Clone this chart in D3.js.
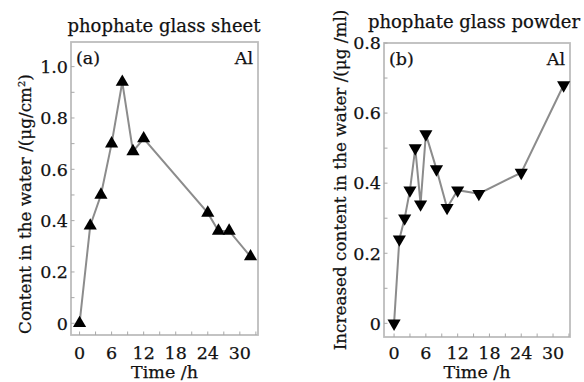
<!DOCTYPE html>
<html>
<head>
<meta charset="utf-8">
<script src="https://cdn.jsdelivr.net/npm/d3@7"></script>
<style>
  body { margin: 0; background: #fff; }
  svg { display: block; }
  text { font-family: "DejaVu Serif", serif; fill: #111; stroke: #111; stroke-width: 0.25; }
</style>
</head>
<body>
<svg id="chart" width="584" height="382"></svg>
<script>
// panel (a): phosphate glass sheet
const timesA = [0, 2, 4, 6, 8, 10, 12, 24, 26, 28, 32];
const contentA = [0, 0.38, 0.50, 0.70, 0.94, 0.67, 0.72, 0.43, 0.36, 0.36, 0.26];
// panel (b): phosphate glass powder
const timesB = [0, 1, 2, 3, 4, 5, 6, 8, 10, 12, 16, 24, 32];
const contentB = [0, 0.24, 0.30, 0.38, 0.50, 0.34, 0.54, 0.44, 0.33, 0.38, 0.37, 0.43, 0.68];

const xTicks = [0, 6, 12, 18, 24, 30];
const xMinor = [3, 9, 15, 21, 27, 33];
const yTicksA = [0, 0.2, 0.4, 0.6, 0.8, 1.0];
const yMinorA = [0.1, 0.3, 0.5, 0.7, 0.9];
const yTicksB = [0, 0.2, 0.4, 0.6, 0.8];
const yMinorB = [0.1, 0.3, 0.5, 0.7];

const svg = d3.select("#chart");
const fmt = d => (d === 0 ? "0" : d3.format(".1f")(d));

function drawPanel(p) {
  const x = d3.scaleLinear().domain(p.xDomain).range([p.left, p.right]);
  const y = d3.scaleLinear().domain(p.yDomain).range([p.bottom, p.top]);
  const g = svg.append("g");

  // frame
  g.append("rect")
    .attr("x", p.left).attr("y", p.top)
    .attr("width", p.right - p.left).attr("height", p.bottom - p.top)
    .attr("fill", "none").attr("stroke", "#bdbdbd").attr("stroke-width", 1.8);

  // ticks (pointing inward)
  const tickStroke = "#a8a8a8";
  g.selectAll(".xt").data(xTicks.concat(xMinor)).enter().append("line")
    .attr("x1", d => x(d)).attr("x2", d => x(d))
    .attr("y1", p.bottom).attr("y2", p.bottom - 3.5)
    .attr("stroke", tickStroke).attr("stroke-width", 1);
  g.selectAll(".yt").data(p.yTicks.concat(p.yMinor)).enter().append("line")
    .attr("x1", p.left).attr("x2", p.left + 3.5)
    .attr("y1", d => y(d)).attr("y2", d => y(d))
    .attr("stroke", tickStroke).attr("stroke-width", 1);

  // tick labels
  g.selectAll(".xl").data(xTicks).enter().append("text")
    .attr("x", d => x(d)).attr("y", 359)
    .attr("text-anchor", "middle").attr("font-size", 17.5)
    .text(d => d);
  g.selectAll(".yl").data(p.yTicks).enter().append("text")
    .attr("x", p.left - 3).attr("y", d => y(d))
    .attr("dy", "0.36em")
    .attr("text-anchor", "end").attr("font-size", 17.5)
    .text(fmt);

  // line + markers
  const pts = p.times.map((t, i) => [t, p.values[i]]);
  g.append("path")
    .datum(pts)
    .attr("fill", "none").attr("stroke", "#8c8c8c").attr("stroke-width", 2)
    .attr("d", d3.line().x(d => x(d[0])).y(d => y(d[1])));
  const sym = d3.symbol().type(d3.symbolTriangle).size(75);
  g.selectAll(".m").data(pts).enter().append("path")
    .attr("d", sym)
    .attr("fill", "#000")
    .attr("transform", d => `translate(${x(d[0])},${y(d[1])})` + (p.down ? " rotate(180)" : ""));

  // labels
  g.append("text").attr("x", p.left + 5).attr("y", p.top + 22)
    .attr("font-size", 17.5).text(p.tag);
  g.append("text").attr("x", p.right - 5).attr("y", p.top + 22)
    .attr("text-anchor", "end").attr("font-size", 17.5).text("Al");
  g.append("text").attr("x", p.titleX).attr("y", p.titleY)
    .attr("text-anchor", "middle").attr("font-size", 18).text(p.title);
  g.append("text").attr("x", (p.left + p.right) / 2).attr("y", 378)
    .attr("text-anchor", "middle").attr("font-size", 17.5).text("Time /h");
  g.append("text")
    .attr("transform", `translate(${p.yLabelX},${p.yLabelY}) rotate(-90)`)
    .attr("text-anchor", "middle").attr("font-size", 16.8)
    .html(p.yLabel);
}

drawPanel({
  times: timesA, values: contentA, down: false,
  left: 71, right: 258, top: 42, bottom: 335,
  xDomain: [-1.6, 33.4], yDomain: [-0.0456, 1.096],
  yTicks: yTicksA, yMinor: yMinorA,
  tag: "(a)", title: "phophate glass sheet", titleX: 164, titleY: 32,
  yLabelX: 31, yLabelY: 204,
  yLabel: "Content in the water /(μg/cm<tspan dy='-6' font-size='10'>2</tspan><tspan dy='6'>)</tspan>"
});

drawPanel({
  times: timesB, values: contentB, down: true,
  left: 384, right: 570, top: 43, bottom: 337,
  xDomain: [-1.9, 33.2], yDomain: [-0.039, 0.8],
  yTicks: yTicksB, yMinor: yMinorB,
  tag: "(b)", title: "phophate glass powder", titleX: 474, titleY: 28,
  yLabelX: 346, yLabelY: 180,
  yLabel: "Increased content in the water /(μg /ml)"
});
</script>
</body>
</html>
